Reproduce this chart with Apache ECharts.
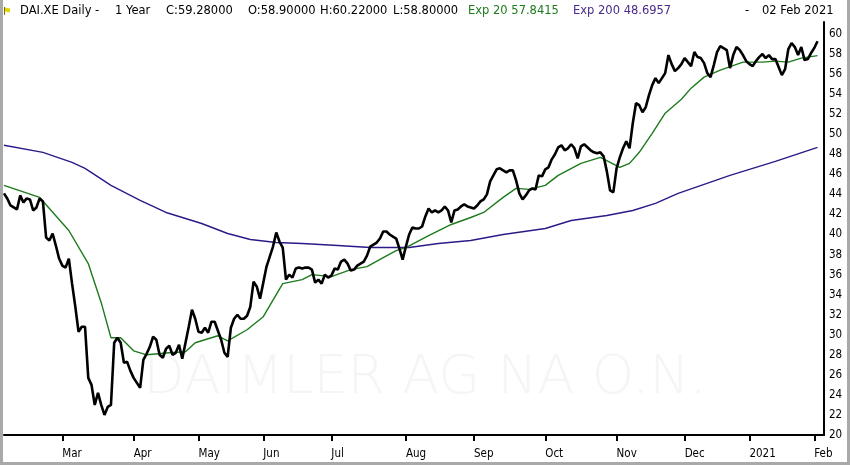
<!DOCTYPE html>
<html>
<head>
<meta charset="utf-8">
<title>DAI.XE Daily - 1 Year</title>
<script src="https://cdn.jsdelivr.net/npm/echarts@6/dist/echarts.min.js"></script>
<style>
  html, body { margin: 0; padding: 0; background: #fff; }
  #main { width: 850px; height: 465px; }
</style>
</head>
<body>
<div id="main"></div>
<script>
// trading calendar (Xetra), one year up to 02 Feb 2021
var startDay = '2020-02-05';
var endDay = '2021-02-02';
var holidays = ['2020-04-10', '2020-04-13', '2020-05-01', '2020-06-01',
                '2020-12-24', '2020-12-25', '2020-12-31', '2021-01-01'];
var monthNames = ['Jan', 'Feb', 'Mar', 'Apr', 'May', 'Jun', 'Jul', 'Aug', 'Sep', 'Oct', 'Nov', 'Dec'];

// daily close
var closeVals = [
    44.1, 43.6, 42.9, 42.7, 42.5, 43.9, 43.2, 43.6, 43.5, 42.4,
    42.7, 43.6, 43.3, 39.7, 39.4, 40.1, 38.9, 37.6, 36.9, 36.7,
    37.6, 35.1, 32.8, 30.3, 30.8, 30.8, 25.7, 25.0, 23.0, 24.2,
    23.0, 22.0, 22.8, 23.0, 29.2, 29.7, 29.2, 27.2, 27.3, 26.4,
    25.7, 25.2, 24.7, 27.5, 28.1, 28.8, 29.8, 29.5, 28.0, 27.7,
    28.6, 28.9, 28.0, 28.2, 29.0, 27.6, 29.2, 30.8, 32.5, 31.6,
    30.3, 30.2, 30.7, 30.2, 31.3, 31.3, 30.4, 29.5, 28.2, 27.8,
    30.7, 31.6, 32.0, 31.6, 31.6, 31.9, 32.8, 35.3, 34.8, 33.6,
    35.2, 36.8, 37.8, 38.8, 40.2, 39.3, 38.7, 35.5, 36.0, 35.7,
    36.6, 36.7, 36.6, 36.7, 36.7, 36.5, 35.2, 35.5, 35.1, 36.0,
    35.7, 35.9, 36.6, 36.5, 37.3, 37.5, 37.1, 36.4, 36.5, 36.9,
    37.1, 37.3, 37.9, 38.8, 39.0, 39.2, 39.6, 40.3, 40.3, 40.0,
    39.8, 39.6, 38.6, 37.5, 38.8, 40.0, 40.7, 40.6, 40.6, 40.8,
    41.8, 42.6, 42.2, 42.4, 42.2, 42.4, 42.8, 42.4, 41.2, 42.4,
    42.5, 42.8, 43.0, 42.8, 42.7, 42.6, 42.9, 43.3, 43.5, 44.0,
    45.3, 45.9, 46.5, 46.6, 46.4, 46.2, 46.4, 46.4, 45.4, 44.1,
    43.5, 43.9, 44.4, 44.6, 44.5, 45.9, 45.8, 46.5, 46.7, 47.5,
    48.0, 48.7, 48.9, 48.4, 48.6, 49.0, 48.6, 47.6, 48.8, 49.0,
    48.7, 48.4, 48.2, 48.1, 48.2, 47.8, 46.3, 44.4, 44.2, 46.6,
    47.7, 48.6, 49.3, 48.6, 51.1, 53.1, 52.9, 52.2, 52.7, 53.9,
    54.9, 55.6, 55.1, 55.6, 56.1, 57.9, 57.0, 56.3, 56.6, 57.0,
    57.6, 57.2, 56.8, 58.2, 57.7, 57.6, 57.1, 56.1, 55.7, 56.9,
    58.2, 58.8, 58.6, 58.4, 56.6, 57.9, 58.7, 58.4, 57.9, 57.3,
    57.0, 56.8, 57.3, 57.7, 58.0, 57.6, 57.9, 57.5, 57.5, 56.7,
    55.9, 56.5, 58.5, 59.1, 58.7, 57.9, 58.7, 57.4, 57.5, 58.1,
    58.6, 59.28
];

// Exp 20, [day index, value]
var ema20 = [
    [0, 44.9], [11, 43.7], [20, 40.4], [26, 37.1], [30, 33.2], [33, 29.7], [36, 29.7],
    [40, 28.4], [44, 28.0], [51, 28.2], [56, 28.3], [59, 29.2], [66, 29.9], [69, 29.4],
    [75, 30.5], [80, 31.8], [84, 34.0], [86, 35.1], [92, 35.5], [95, 36.0], [101, 35.8],
    [107, 36.5], [112, 36.8], [117, 37.7], [121, 38.4], [124, 38.7], [131, 39.9],
    [138, 41.0], [144, 41.7], [148, 42.2], [154, 43.7], [158, 44.6], [162, 44.5],
    [167, 44.9], [171, 45.9], [178, 47.1], [184, 47.7], [187, 47.2], [190, 46.7],
    [193, 47.1], [196, 48.2], [200, 50.1], [204, 52.1], [209, 53.5], [212, 54.6],
    [216, 55.7], [221, 56.4], [228, 57.2], [234, 57.2], [238, 57.3], [242, 57.2],
    [246, 57.6], [251, 57.8415]
];

// Exp 200, [day index, value]
var ema200 = [
    [0, 48.9], [12, 48.2], [21, 47.2], [25, 46.6], [33, 44.9], [42, 43.4], [50, 42.2],
    [61, 41.1], [69, 40.1], [76, 39.5], [84, 39.2], [92, 39.1], [103, 38.9], [113, 38.7],
    [125, 38.7], [134, 39.1], [144, 39.4], [154, 40.0], [167, 40.6], [175, 41.4],
    [186, 41.9], [194, 42.4], [201, 43.1], [208, 44.1], [224, 45.9], [238, 47.3],
    [251, 48.6957]
];

var yTicks = { min: 20, max: 61.2, step: 2 };

function tradingDays() {
    var out = [];
    var d = new Date(startDay + 'T00:00:00Z');
    var end = new Date(endDay + 'T00:00:00Z');
    while (d <= end) {
        var s = d.toISOString().slice(0, 10);
        var wd = d.getUTCDay();
        if (wd !== 0 && wd !== 6 && holidays.indexOf(s) < 0) out.push(s);
        d.setUTCDate(d.getUTCDate() + 1);
    }
    return out;
}

var days = tradingDays();
var cats = days.concat(['+1', '+2']);   // a little room right of the last bar

function isMonthStart(idx) {
    if (idx <= 0 || idx >= days.length) return false;
    return days[idx].slice(5, 7) !== days[idx - 1].slice(5, 7);
}

var green = '#1d7a1d';
var purple = '#2c1a88';
var headFont = '11.5px "DejaVu Sans", sans-serif';

function headText(x, txt, color) {
    return {
        type: 'text', left: x, top: 5,
        style: { text: txt, fill: color || '#000', font: headFont }
    };
}

var main = echarts.init(document.getElementById('main'));
var option = {
    animation: false,
    backgroundColor: '#fff',
    grid: { left: 4, right: 26, top: 22, bottom: 30 },
    xAxis: {
        type: 'category',
        data: cats,
        boundaryGap: false,
        axisLine: { lineStyle: { color: '#000', width: 2 } },
        axisTick: {
            interval: function (idx) { return isMonthStart(idx); },
            length: 6,
            lineStyle: { color: '#000', width: 2 }
        },
        axisLabel: {
            interval: function (idx) { return isMonthStart(idx); },
            formatter: function (value) {
                var mm = +value.slice(5, 7);
                return mm === 1 ? value.slice(0, 4) : monthNames[mm - 1];
            },
            align: 'left',
            margin: 13,
            color: '#000',
            fontSize: 11.5,
            fontFamily: '"DejaVu Sans Condensed", "DejaVu Sans", sans-serif'
        },
        splitLine: { show: false }
    },
    yAxis: {
        type: 'value',
        position: 'right',
        min: yTicks.min,
        max: yTicks.max,
        interval: yTicks.step,
        axisLine: { show: true, lineStyle: { color: '#000', width: 2 } },
        axisTick: { show: false },
        splitLine: { show: false },
        axisLabel: {
            showMaxLabel: false,
            margin: 5,
            color: '#000',
            fontSize: 11.5,
            fontFamily: '"DejaVu Sans Condensed", "DejaVu Sans", sans-serif'
        }
    },
    graphic: [
        // grey frame
        { type: 'rect', shape: { x: 0, y: 0, width: 3, height: 465 }, style: { fill: '#a9a9a9' } },
        { type: 'rect', shape: { x: 847, y: 0, width: 3, height: 465 }, style: { fill: '#a9a9a9' } },
        { type: 'rect', shape: { x: 0, y: 462, width: 850, height: 3 }, style: { fill: '#a9a9a9' } },
        // watermark
        {
            type: 'text', left: 'center', top: 352, z: -1,
            style: {
                text: 'DAIMLER AG NA O.N.',
                fill: '#f5f5f5',
                font: '200 54px "DejaVu Sans", sans-serif'
            }
        },
        // flag
        { type: 'line', shape: { x1: 4.5, y1: 7, x2: 4.5, y2: 15 }, style: { stroke: '#7a6a10', lineWidth: 1 } },
        { type: 'polygon', shape: { points: [[5, 7.5], [10, 8.5], [10, 12.5], [5, 11.5]] }, style: { fill: '#e6d400' } },
        headText(20, 'DAI.XE Daily -'),
        headText(115, '1 Year'),
        headText(166, 'C:59.28000'),
        headText(248, 'O:58.90000'),
        headText(320, 'H:60.22000'),
        headText(393, 'L:58.80000'),
        headText(468, 'Exp 20 57.8415', green),
        headText(573, 'Exp 200 48.6957', '#4a2a8c'),
        headText(745, '-'),
        headText(762, '02 Feb 2021')
    ],
    series: [
        {
            name: 'Exp 200',
            type: 'line',
            data: ema200,
            showSymbol: false,
            smooth: false,
            lineStyle: { color: purple, width: 1.4 },
            z: 2
        },
        {
            name: 'Exp 20',
            type: 'line',
            data: ema20,
            showSymbol: false,
            smooth: false,
            lineStyle: { color: green, width: 1.4 },
            z: 3
        },
        {
            name: 'DAI.XE',
            type: 'line',
            data: closeVals,
            showSymbol: false,
            smooth: false,
            lineStyle: { color: '#000', width: 2.6 },
            z: 4
        }
    ]
};
main.setOption(option);
</script>
</body>
</html>
